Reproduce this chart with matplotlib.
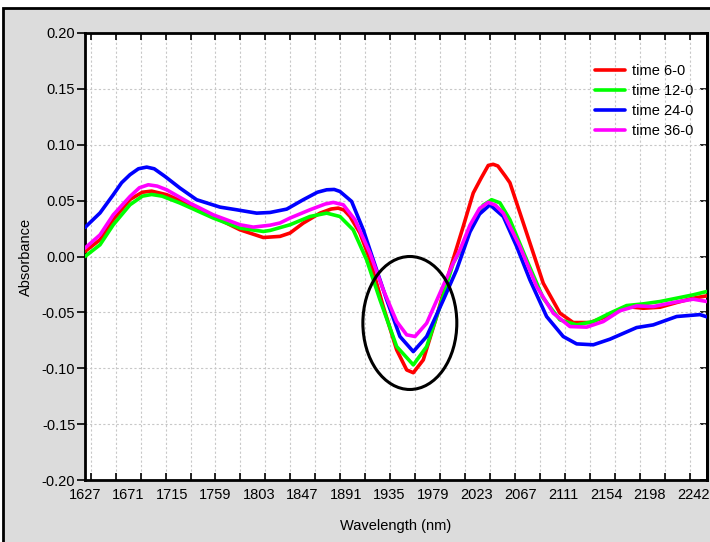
import numpy as np
import matplotlib
matplotlib.use("Agg")
import matplotlib.pyplot as plt
from matplotlib.patches import Ellipse, Rectangle

plt.rcParams['font.family'] = ['Liberation Sans', 'DejaVu Sans']

# ---------------- data ----------------
red_x = [1627, 1642.2, 1655.6, 1672.5, 1685, 1694.4, 1709.6, 1733.2, 1756.7, 1783.7, 1807.3,
         1824.2, 1834.3, 1847.7, 1864.6, 1876, 1883.1, 1889, 1895, 1905, 1915.2, 1928.6, 1942.2,
         1952.3, 1959, 1969.1, 1982.6, 1996, 2009.5, 2019.6, 2027.5, 2034.8, 2039.8, 2044.5,
         2052, 2056.7, 2073.6, 2090.4, 2107.3, 2120.7, 2137.6, 2154.5, 2174.7, 2191.5, 2208.4,
         2225.3, 2242, 2256]
red_y = [0.0045, 0.015, 0.033, 0.051, 0.0575, 0.0585, 0.0553, 0.0463, 0.0358, 0.0239, 0.0170,
         0.018, 0.021, 0.0299, 0.0388, 0.0425, 0.0433, 0.0415, 0.0358, 0.021, -0.003, -0.0448, -0.0836,
         -0.1015, -0.104, -0.0925, -0.0537, -0.0119, 0.0269, 0.0568, 0.070, 0.0815, 0.0825, 0.081,
         0.072, 0.066, 0.021, -0.0239, -0.0507, -0.0591, -0.0591, -0.0537, -0.0448, -0.0463, -0.0454,
         -0.0412, -0.0373, -0.0352]

green_x = [1627, 1642.2, 1655.6, 1672.5, 1685, 1694.4, 1705, 1723.1, 1756.7, 1783.7, 1807.3, 1814.1,
           1834.3, 1854.5, 1871.4, 1884.8, 1898.2, 1911.8, 1925.3, 1942.2, 1959, 1972.5, 1985.9,
           1999.4, 2006.2, 2019.6, 2029.7, 2038.2, 2046.6, 2056.7, 2073.6, 2090.4, 2107.3, 2124.2,
           2141, 2157.8, 2174.7, 2191.5, 2208.4, 2225.3, 2242, 2256]
green_y = [0.0, 0.0105, 0.0284, 0.0463, 0.054, 0.0555, 0.054, 0.0478, 0.0344, 0.0254, 0.0224, 0.0233,
           0.0284, 0.0358, 0.0388, 0.0358, 0.0239, -0.003, -0.0388, -0.0806, -0.097, -0.0806, -0.0448,
           -0.006, 0.005, 0.030, 0.046, 0.0508, 0.048, 0.0329, -0.003, -0.0373, -0.0567, -0.0612,
           -0.0582, -0.0507, -0.0439, -0.0424, -0.0403, -0.0373, -0.0343, -0.0313]

blue_x = [1627, 1642.2, 1655.6, 1664, 1672.5, 1681, 1689.4, 1697, 1708, 1723.1, 1739.9, 1763.5,
          1780.4, 1800.6, 1814.1, 1831, 1847.7, 1862, 1871.4, 1879, 1884.8, 1896.6, 1908.4, 1918.5,
          1932.1, 1945.5, 1959, 1972.5, 1989.3, 2002.8, 2016.3, 2026, 2036.5, 2050, 2063.5, 2076.9,
          2093.8, 2110.6, 2124.2, 2141, 2157.8, 2184.8, 2201.6, 2225.3, 2248.9, 2256]
blue_y = [0.026, 0.039, 0.0553, 0.066, 0.0732, 0.0785, 0.080, 0.0785, 0.0716, 0.0612, 0.0508, 0.0442,
          0.0418, 0.0388, 0.0394, 0.0424, 0.0508, 0.0575, 0.0597, 0.0600, 0.0582, 0.0493, 0.0239, -0.003,
          -0.0388, -0.0716, -0.0851, -0.0716, -0.039, -0.0119, 0.022, 0.038, 0.0463, 0.0358, 0.009,
          -0.0209, -0.0537, -0.0716, -0.0782, -0.079, -0.074, -0.0636, -0.0612, -0.0537, -0.052, -0.054]

magenta_x = [1627, 1642.2, 1655.6, 1672.5, 1682, 1691, 1700, 1709.6, 1733.2, 1756.7, 1783.7, 1797.2,
             1814.1, 1824.2, 1834.3, 1854.5, 1870, 1878.1, 1888.2, 1900, 1915.2, 1928.6, 1942.2,
             1952.3, 1960.7, 1972.5, 1985.9, 1999.4, 2006.2, 2016.3, 2026, 2034.8, 2042, 2050, 2066.8,
             2083.7, 2100.5, 2117.4, 2134.3, 2151.1, 2167.9, 2184.8, 2201.6, 2221.8, 2242, 2256]
magenta_y = [0.0075, 0.0194, 0.0373, 0.0537, 0.0615, 0.0642, 0.063, 0.0597, 0.0478, 0.0373, 0.0284,
             0.0263, 0.028, 0.030, 0.0344, 0.0418, 0.0470, 0.0484, 0.0463, 0.0329, 0.003, -0.0298,
             -0.0582, -0.0701, -0.0716, -0.0597, -0.0328, -0.006, 0.006, 0.028, 0.043, 0.0484, 0.046,
             0.0388, 0.009, -0.0269, -0.0507, -0.0627, -0.0632, -0.0582, -0.0486, -0.0442, -0.0448,
             -0.0412, -0.0382, -0.0403]

series = [("time 6-0", red_x, red_y, "#ff0000"),
          ("time 12-0", green_x, green_y, "#00ff00"),
          ("time 24-0", blue_x, blue_y, "#0000ff"),
          ("time 36-0", magenta_x, magenta_y, "#ff00ff")]

xtick_labels = ["1627", "1671", "1715", "1759", "1803", "1847", "1891", "1935",
                "1979", "2023", "2067", "2111", "2154", "2198", "2242"]
xtick_vals = [float(s) for s in xtick_labels]
ytick_vals = [0.20, 0.15, 0.10, 0.05, 0.00, -0.05, -0.10, -0.15, -0.20]

# highlighted region (ellipse)
ell_center = (1955.5, -0.0595)
ell_w, ell_h = 95, 0.119

# ---------------- figure ----------------
W, H = 710, 542
fig = plt.figure(figsize=(W / 100, H / 100), dpi=100, facecolor="white")
fig.patches.append(Rectangle((3 / W, -0.05), 1.2, 1.05 - 8 / H, transform=fig.transFigure,
                             facecolor="#dcdcdc", edgecolor="black", linewidth=2, zorder=-10))

ax = fig.add_axes([85 / W, 1 - 480 / H, 622 / W, 447 / H])
ax.set_facecolor("white")

for label, xs, ys, c in series:
    ax.plot(xs, ys, color=c, lw=2.6, label=label, solid_joinstyle="round",
            solid_capstyle="round", zorder=3)

ax.add_patch(Ellipse(ell_center, ell_w, ell_h, fill=False, edgecolor="black", lw=2.2, zorder=4))

ax.set_xlim(1627, 2256)
ax.set_ylim(-0.20, 0.20)

# x: labels (no ticks) + minor grid ticks
ax.set_xticks(xtick_vals)
ax.set_xticklabels(xtick_labels, fontsize=10.5)
minor_x = np.arange(1632.8, 2250, 25.23)
ax.set_xticks(minor_x, minor=True)
ax.tick_params(axis="x", which="major", length=0, pad=6)
ax.tick_params(axis="x", which="minor", direction="in", length=5, width=1.2, top=True, bottom=True)

ax.set_yticks(ytick_vals)
ax.set_yticklabels([f"{v:.2f}" for v in ytick_vals], fontsize=10.5)
ax.tick_params(axis="y", which="major", direction="out", length=6, width=1.2, pad=1)

sec = ax.secondary_yaxis("right")
sec.set_yticks(ytick_vals)
sec.tick_params(direction="in", length=5, width=1.2, labelright=False)
sec.spines["right"].set_linewidth(2)

ax.grid(True, which="minor", axis="x", color="#c8c8c8", linestyle=(0, (2, 2)), lw=0.8)
ax.grid(True, which="major", axis="y", color="#c8c8c8", linestyle=(0, (2, 2)), lw=0.8)
ax.grid(False, which="major", axis="x")
ax.set_axisbelow(True)

for s in ax.spines.values():
    s.set_linewidth(2)
    s.set_color("black")

ax.set_xlabel("Wavelength (nm)", fontsize=10.5, labelpad=12)
ax.set_ylabel("Absorbance", fontsize=10.5, labelpad=6)

leg = ax.legend(loc="upper right", bbox_to_anchor=(0.992, 0.95), frameon=False, fontsize=10.5,
                handlelength=2.1, handletextpad=0.45, labelspacing=0.42, borderaxespad=0.2)

fig.savefig("out.png", dpi=100, facecolor=fig.get_facecolor())
